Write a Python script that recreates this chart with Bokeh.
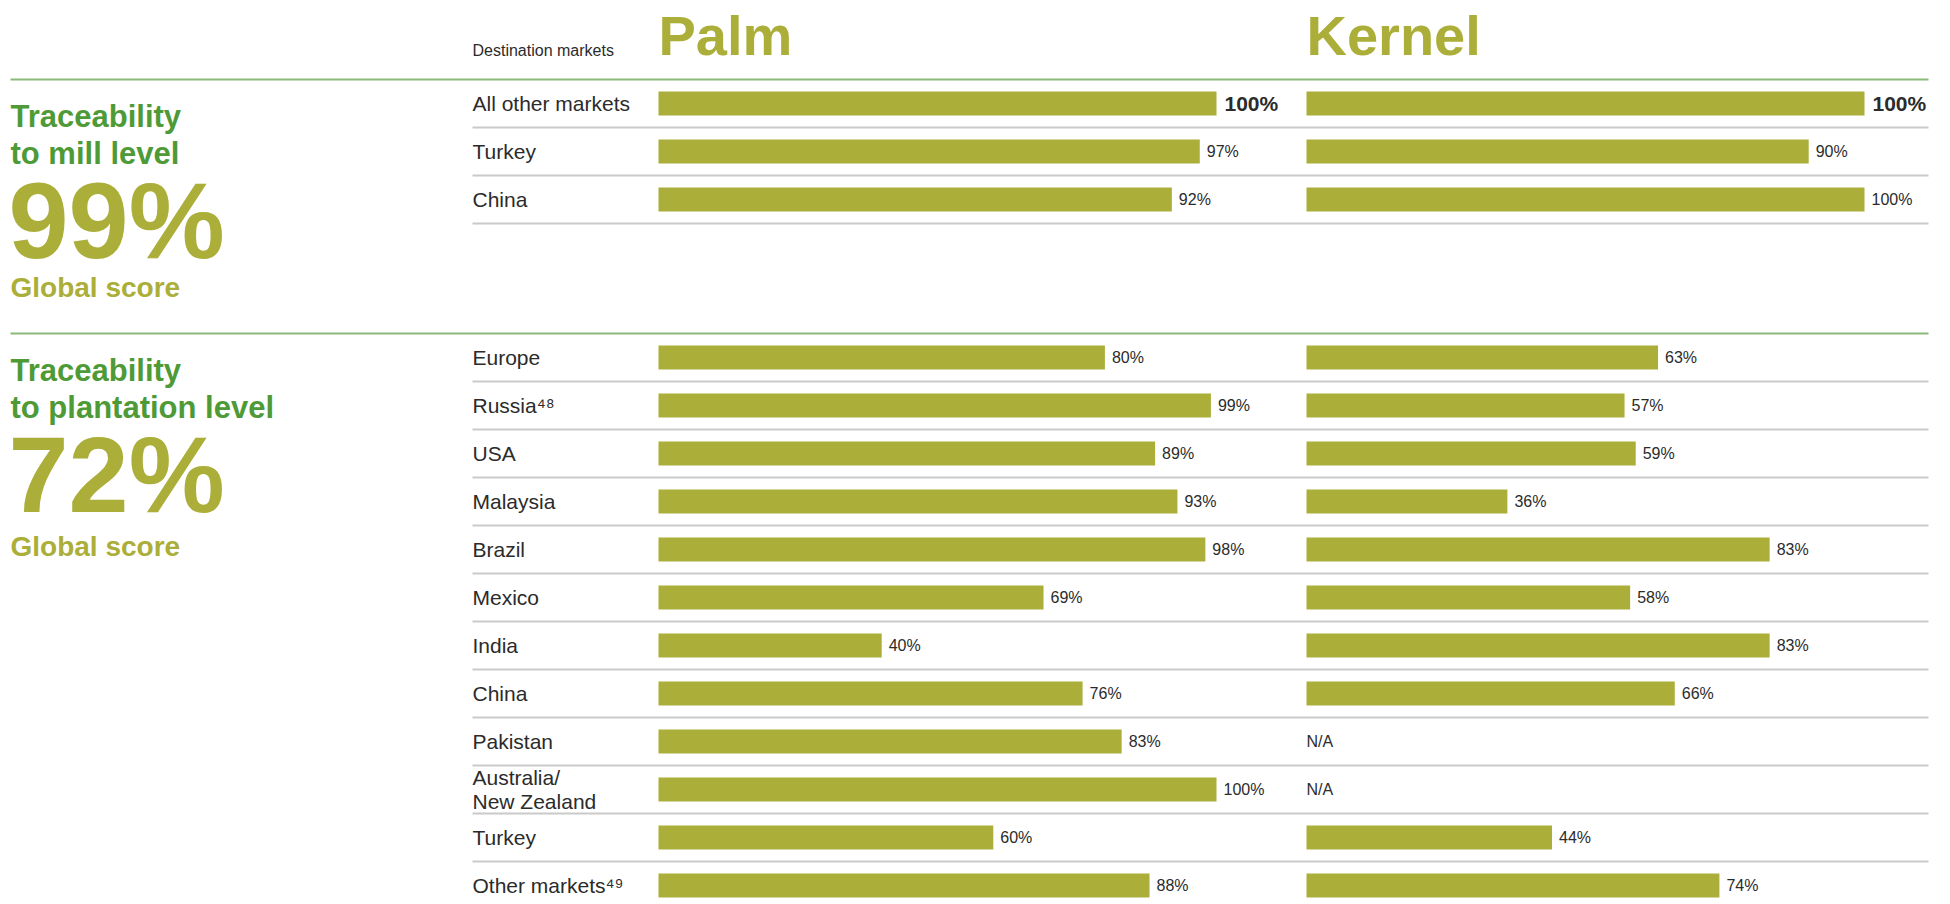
from bokeh.plotting import figure
from bokeh.models import Range1d
from bokeh.embed import file_html
from bokeh.resources import INLINE
from bokeh.core.properties import value

# ---------------- data ----------------
series = ["Palm", "Kernel"]

mill_markets = ["All other markets", "Turkey", "China"]
mill_palm = [100, 97, 92]
mill_kernel = [100, 90, 100]
mill_score = "99%"

plant_markets = ["Europe", "Russia\u2074\u2078", "USA", "Malaysia", "Brazil", "Mexico",
                 "India", "China", "Pakistan", "Australia/\nNew Zealand", "Turkey",
                 "Other markets\u2074\u2079"]
plant_palm = [80, 99, 89, 93, 98, 69, 40, 76, 83, 100, 60, 88]
plant_kernel = [63, 57, 59, 36, 83, 58, 83, 66, None, None, 44, 74]
plant_score = "72%"

section_titles = [("Traceability", "to mill level"), ("Traceability", "to plantation level")]

# ---------------- style / layout ----------------
W, H = 1950, 904
OLIVE = "#ABAE38"
GREEN = "#4E9A36"
GREEN_LINE = "#8AB97A"
GRAY_LINE = "#CACACA"
TXT = "#2B2B2B"
FONT = value("Liberation Sans")
PX_PER_PCT = 5.58
PALM_X0 = 658
KERNEL_X0 = 1306
LABEL_X = 472
LEFT_X = 10
RULE_END = 1928
ROW_H = 48
BAR_H = 24

p = figure(width=W, height=H, output_backend="svg", toolbar_location=None, tools="",
           x_range=Range1d(0, W), y_range=Range1d(H, 0),
           x_axis_type=None, y_axis_type=None, min_border=0,
           outline_line_color=None, background_fill_color="white")
p.xgrid.visible = False
p.ygrid.visible = False
p.extra_x_ranges = {
    "Palm": Range1d(-PALM_X0 / PX_PER_PCT, (W - PALM_X0) / PX_PER_PCT),
    "Kernel": Range1d(-KERNEL_X0 / PX_PER_PCT, (W - KERNEL_X0) / PX_PER_PCT),
}

# headers
p.text(x=[LABEL_X], y=[50], text=["Destination markets"], text_font=FONT,
       text_font_size="16px", text_color=TXT, text_baseline="middle")
for s in series:
    p.text(x=[0], y=[35], text=[s], x_range_name=s, text_font=FONT,
           text_font_size="56px", text_font_style="bold", text_color=OLIVE,
           text_baseline="middle")


def draw_section(line_y, titles, score, markets, palm, kernel, bold_first, gs_off):
    # green rule
    p.segment(x0=[LEFT_X], x1=[RULE_END], y0=[line_y], y1=[line_y],
              line_color=GREEN_LINE, line_width=2)
    # left text block
    p.text(x=[LEFT_X, LEFT_X], y=[line_y + 37, line_y + 74], text=list(titles), text_font=FONT,
           text_font_size="31px", text_font_style="bold", text_color=GREEN,
           text_baseline="middle")
    p.text(x=[LEFT_X - 2], y=[line_y + 141], text=[score], text_font=FONT,
           text_font_size="108px", text_font_style="bold", text_color=OLIVE,
           text_baseline="middle")
    p.text(x=[LEFT_X], y=[line_y + gs_off], text=["Global score"], text_font=FONT,
           text_font_size="28px", text_font_style="bold", text_color=OLIVE,
           text_baseline="middle")

    ys = [line_y + 24 + ROW_H * i for i in range(len(markets))]
    # separators
    p.segment(x0=[LABEL_X] * len(ys), x1=[RULE_END] * len(ys),
              y0=[y + 24 for y in ys], y1=[y + 24 for y in ys],
              line_color=GRAY_LINE, line_width=2)
    # row labels
    p.text(x=[LABEL_X] * len(ys), y=ys, text=markets, text_font=FONT,
           text_font_size="21px", text_color=TXT, text_baseline="middle",
           text_line_height=1.02)

    for name, vals in (("Palm", palm), ("Kernel", kernel)):
        yv = [y for y, v in zip(ys, vals) if v is not None]
        vv = [v for v in vals if v is not None]
        yn = [y for y, v in zip(ys, vals) if v is None]
        p.hbar(y=yv, left=0, right=vv, height=BAR_H, x_range_name=name,
               fill_color=OLIVE, line_color=None)
        labels = [f"{v}%" for v in vv]
        start = 0
        if bold_first and vals[0] is not None:
            p.text(x=[vv[0]], y=[yv[0]], text=[labels[0]], x_range_name=name,
                   x_offset=8, text_font=FONT, text_font_size="21px",
                   text_font_style="bold", text_color=TXT, text_baseline="middle")
            start = 1
        p.text(x=vv[start:], y=yv[start:], text=labels[start:], x_range_name=name,
               x_offset=7, text_font=FONT, text_font_size="16px", text_color=TXT,
               text_baseline="middle")
        if yn:
            p.text(x=[0] * len(yn), y=yn, text=["N/A"] * len(yn), x_range_name=name,
                   text_font=FONT, text_font_size="16px", text_color=TXT,
                   text_baseline="middle")


draw_section(79, section_titles[0], mill_score, mill_markets, mill_palm, mill_kernel, True, 208)
draw_section(333, section_titles[1], plant_score, plant_markets, plant_palm, plant_kernel, False, 213)

open("out.html", "w").write(file_html(p, INLINE))
